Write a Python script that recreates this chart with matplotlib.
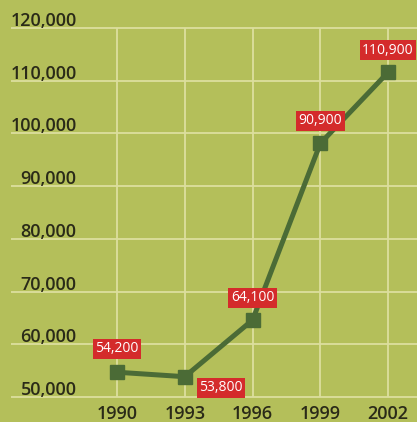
import matplotlib
matplotlib.use("Agg")
import matplotlib.pyplot as plt

years = [1990, 1993, 1996, 1999, 2002]
values = [54700, 53850, 64600, 98100, 111600]
point_labels = ["54,200", "53,800", "64,100", "90,900", "110,900"]
label_offsets = [(0, 17), (26, -8), (0, 16), (0, 16.5), (0, 16)]
y_ticks = [50000, 60000, 70000, 80000, 90000, 100000, 110000, 120000]

bg = "#b4bf5a"
grid_c = "#dcdf9e"
line_c = "#4b6b36"
red = "#d42b2b"

fig = plt.figure(figsize=(4.17, 4.22), dpi=100)
fig.patch.set_facecolor(bg)
ax = fig.add_axes([0, 0, 1, 1])
ax.set_facecolor(bg)
ax.set_xlim(1984.82, 2003.28)
ax.set_ylim(45257, 125312)
ax.axis("off")

# grid
ax.hlines(y_ticks, 1985.3, 2003.28, color=grid_c, lw=1.3, zorder=1)
ax.vlines(years, y_ticks[0], y_ticks[-1], color=grid_c, lw=1.3, zorder=1)

# tick labels
for v in y_ticks:
    ax.annotate(f"{v:,}", (1990, v), xytext=(-29, 5), textcoords="offset points",
                ha="right", va="center", fontsize=13, fontweight="semibold",
                color="#2a2a18", family="Open Sans")
for yr in years:
    ax.annotate(str(yr), (yr, 50000), xytext=(0, -12), textcoords="offset points",
                ha="center", va="center", fontsize=13, fontweight="semibold",
                color="#2a2a18", family="Open Sans")

ax.plot(years, values, color=line_c, lw=3.6, marker="s", ms=9.5, zorder=3)

for yr, v, lab, off in zip(years, values, point_labels, label_offsets):
    ax.annotate(lab, (yr, v), xytext=off, textcoords="offset points",
                ha="center", va="center", fontsize=10, color="white",
                family="Open Sans", zorder=4,
                bbox=dict(boxstyle="square,pad=0.18", fc=red, ec="none"))

fig.savefig("out.png", dpi=100, facecolor=bg)
